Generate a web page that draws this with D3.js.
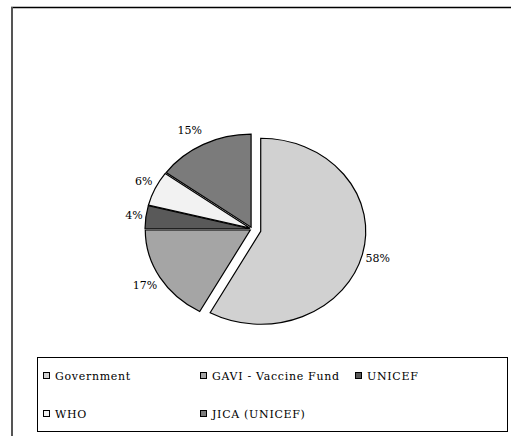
<html>
<head>
<script src="https://d3js.org/d3.v7.min.js"></script>
<style>
  body { margin: 0; background: #fff; }
</style>
</head>
<body>
<script>
// chart data
const categories = ["Government", "GAVI - Vaccine Fund", "UNICEF", "WHO", "JICA (UNICEF)"];
const shares = [58, 17, 4, 6, 15];
const fills = ["#d1d1d1", "#a5a5a5", "#595959", "#f2f2f2", "#7b7b7b"];
const explode = [9, 2, 2, 2, 2];

const font = "'DejaVu Serif', 'Liberation Serif', serif";
const width = 511, height = 436;
const svg = d3.select("body").append("svg")
  .attr("width", width).attr("height", height);

// frame (clipped by the window on right/bottom)
svg.append("line").attr("x1", 11).attr("x2", width).attr("y1", 7.5).attr("y2", 7.5)
  .attr("stroke", "#000").attr("stroke-width", 1.5);
svg.append("line").attr("x1", 12).attr("x2", 12).attr("y1", 7).attr("y2", height)
  .attr("stroke", "#555").attr("stroke-width", 2);

// pie: drawn as a circle and stretched horizontally
const cx = 252, cy = 229, ry = 93, rx = 105;
const sx = rx / ry;

const pie = d3.pie().sort(null).value(d => d);
const arcs = pie(shares);
const arc = d3.arc().innerRadius(0).outerRadius(ry);
const mid = d => (d.startAngle + d.endAngle) / 2;

const g = svg.append("g").attr("transform", `translate(${cx},${cy})`);
g.selectAll("path")
  .data(arcs)
  .join("path")
    .attr("d", arc)
    .attr("fill", (d, i) => fills[i])
    .attr("stroke", "#000")
    .attr("stroke-width", 1.2)
    .attr("vector-effect", "non-scaling-stroke")
    .attr("transform", (d, i) => {
      const a = mid(d);
      const ox = Math.sin(a) * explode[i], oy = -Math.cos(a) * explode[i];
      return `translate(${ox},${oy}) scale(${sx},1)`;
    });

// percentage labels just outside each slice
g.selectAll("text.lbl")
  .data(arcs)
  .join("text")
    .attr("class", "lbl")
    .attr("x", (d, i) => Math.sin(mid(d)) * (rx * 1.03 + explode[i]))
    .attr("y", (d, i) => -Math.cos(mid(d)) * (ry * 1.17 + explode[i]))
    .attr("text-anchor", d => Math.sin(mid(d)) < 0 ? "end" : "start")
    .attr("dominant-baseline", "central")
    .attr("font-family", font)
    .attr("font-size", 11)
    .attr("fill", "#000")
    .text(d => d.data + "%");

// legend
const lg = svg.append("g");
lg.append("rect").attr("x", 37.5).attr("y", 357.5).attr("width", 470).attr("height", 74)
  .attr("fill", "#fff").attr("stroke", "#000").attr("stroke-width", 1);

const colX = [43, 200, 355];
const rowY = [376, 414];
const items = lg.selectAll("g.item")
  .data(categories)
  .join("g")
    .attr("class", "item")
    .attr("transform", (d, i) => `translate(${colX[i % 3]},${rowY[Math.floor(i / 3)]})`);
items.append("rect")
  .attr("x", 0.5).attr("y", -3.5).attr("width", 6).attr("height", 6)
  .attr("fill", (d, i) => fills[i]).attr("stroke", "#000").attr("stroke-width", 1);
items.append("text")
  .attr("x", 12).attr("y", 0)
  .attr("dominant-baseline", "central")
  .attr("font-family", font)
  .attr("font-size", 11)
  .attr("letter-spacing", 0.7)
  .attr("fill", "#000")
  .text(d => d);
</script>
</body>
</html>
